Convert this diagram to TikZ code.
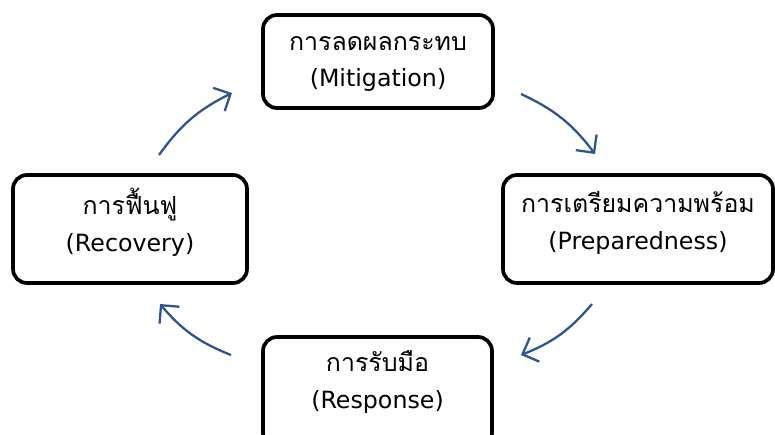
\documentclass[tikz,border=0pt]{standalone}
\usepackage{fontspec}
\setmainfont{DejaVu Sans}
\newfontfamily\thaifont[Script=Thai,Scale=1.05]{Loma}
\usetikzlibrary{arrows.meta}
\definecolor{cyclearrow}{RGB}{46,84,140}

\begin{document}
\begin{tikzpicture}[
    phase/.style={draw, line width=2.1pt, rounded corners=0.28cm, align=center,
        font=\fontsize{13.5}{21}\selectfont},
    cyclearr/.style={-{Straight Barb[length=2.6mm, width=5.2mm]}, line width=1.3pt,
        cyclearrow, bend left=14}
]
    \clip (0,0) rectangle (15.5,8.68);

    % Draw the four boxes
    \node[phase, minimum width=4.6cm, minimum height=1.86cm, text depth=0cm] (mitig) at (7.56,7.45)
        {{\thaifont การลดผลกระทบ}\\(Mitigation)};
    \node[phase, minimum width=5.4cm, minimum height=2.16cm, text depth=0.36cm] (prep) at (12.76,4.1)
        {{\thaifont การเตรียมความพร้อม}\\(Preparedness)};
    \node[phase, minimum width=4.68cm, minimum height=2.16cm, text depth=0.36cm] (recov) at (2.6,4.1)
        {{\thaifont การฟื้นฟู}\\(Recovery)};
    \node[phase, minimum width=4.58cm, minimum height=2.2cm, text depth=0.5cm] (resp) at (7.55,0.84)
        {{\thaifont การรับมือ}\\(Response)};

    % Ends of the arrows between the boxes
    \coordinate (recov-out) at (3.18,5.58);
    \coordinate (mitig-in)  at (4.64,6.82);
    \coordinate (mitig-out) at (10.42,6.8);
    \coordinate (prep-in)   at (11.9,5.6);
    \coordinate (prep-out)  at (11.84,2.6);
    \coordinate (resp-in)   at (10.42,1.58);
    \coordinate (resp-out)  at (4.62,1.58);
    \coordinate (recov-in)  at (3.2,2.6);

    % Draw the cycle arrows
    \draw[cyclearr] (recov-out) to (mitig-in);
    \draw[cyclearr] (mitig-out) to (prep-in);
    \draw[cyclearr] (prep-out) to (resp-in);
    \draw[cyclearr] (resp-out) to (recov-in);
\end{tikzpicture}
\end{document}
